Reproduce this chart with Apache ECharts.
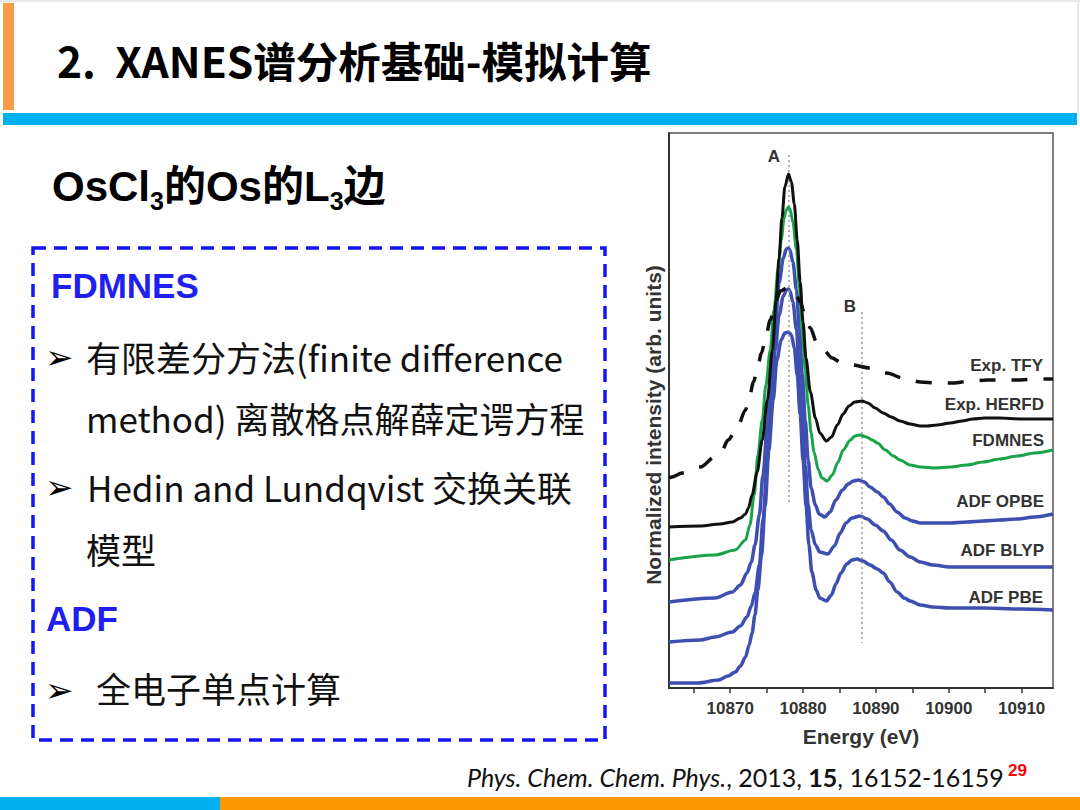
<!DOCTYPE html>
<html>
<head>
<meta charset="utf-8">
<script src="https://cdn.jsdelivr.net/npm/echarts@6/dist/echarts.min.js"></script>
<style>
html,body{margin:0;padding:0;background:#fff;}
#page{position:relative;width:1080px;height:810px;overflow:hidden;background:#fff;}
#chart{position:absolute;left:0;top:0;width:1080px;height:810px;z-index:1;}
.abs{position:absolute;white-space:nowrap;z-index:2;}
.cjk{font-family:"Noto Sans CJK SC","Noto Sans",sans-serif;}
.title{left:57px;top:35px;line-height:50px;font-size:42.5px;font-weight:bold;color:#000;}
.sub{left:52px;top:162px;line-height:50px;font-size:42px;font-weight:bold;color:#000;font-family:"Liberation Sans","Noto Sans CJK SC",sans-serif;}
.sub sub{font-size:25px;vertical-align:-9px;line-height:0;}
.blue{color:#1f1ff0;font-family:"Liberation Sans",Arial,sans-serif;font-weight:bold;font-size:35px;line-height:40px;}
.txt{font-size:35px;line-height:44px;color:#111;}
.arrow{font-family:"DejaVu Sans",sans-serif;font-size:34px;line-height:40px;color:#000;}
.foot{left:467px;top:763px;line-height:28px;font-size:25px;color:#111;font-family:Lato,"Open Sans",sans-serif;}
.pg{left:1008px;top:761px;line-height:20px;font-size:17px;font-weight:bold;color:#ff0000;font-family:"Liberation Sans",Arial,sans-serif;}
</style>
</head>
<body>
<div id="page">
  <div class="abs" style="left:0;top:0;width:1080px;height:2px;background:#e8e8e8;"></div>
  <div class="abs" style="left:1077px;top:0;width:2px;height:113px;background:#e8e8e8;"></div>
  <div class="abs" style="left:3px;top:3px;width:11px;height:107px;background:#f79a4a;"></div>
  <div class="abs" style="left:3px;top:113px;width:1074px;height:12px;background:#00b0f0;"></div>
  <div class="abs" style="left:0;top:797px;width:220px;height:13px;background:#00b0f0;"></div>
  <div class="abs" style="left:220px;top:797px;width:860px;height:13px;background:#ff9900;"></div>

  <div class="abs cjk title">2.&nbsp; XANES谱分析基础-模拟计算</div>
  <div class="abs sub">OsCl<sub>3</sub>的Os的L<sub>3</sub>边</div>

  <svg class="abs" style="left:0;top:0;" width="1080" height="810">
    <rect x="33" y="248" width="572" height="492" fill="none" stroke="#1414f5" stroke-width="3.5" stroke-dasharray="13 8"/>
  </svg>

  <div class="abs blue" style="left:51px;top:266px;">FDMNES</div>
  <div class="abs arrow" style="left:45px;top:337px;">➢</div>
  <div class="abs cjk txt" style="left:86px;top:335px;">有限差分方法(finite difference</div>
  <div class="abs cjk txt" style="left:86px;top:396px;">method) 离散格点解薛定谔方程</div>
  <div class="abs arrow" style="left:45px;top:467px;">➢</div>
  <div class="abs cjk txt" style="left:87px;top:465px;">Hedin and Lundqvist 交换关联</div>
  <div class="abs cjk txt" style="left:86px;top:527px;">模型</div>
  <div class="abs blue" style="left:46px;top:599px;">ADF</div>
  <div class="abs arrow" style="left:45px;top:670px;">➢</div>
  <div class="abs cjk txt" style="left:96px;top:666px;">全电子单点计算</div>

  <div class="abs foot"><i>Phys. Chem. Chem. Phys.</i>, 2013, <b>15</b>, 16152-16159</div>
  <div class="abs pg">29</div>

  <div id="chart"></div>
</div>
<script>
// ---- tick values ----
const energyTicks = [10870, 10880, 10890, 10900, 10910];
const energyMinorTicks = [10865, 10870, 10875, 10880, 10885, 10890, 10895, 10900, 10905, 10910];
const energyMin = 10861.6, energyMax = 10914.3;
const intensityMin = 0, intensityMax = 55.5;

// ---- series names ----
const seriesNames = ['Exp. TFY', 'Exp. HERFD', 'FDMNES', 'ADF OPBE', 'ADF BLYP', 'ADF PBE'];

// ---- Exp. TFY (dashed) ----
const tfyE = [10861.6,10862.0,10863.4,10865.9,10867.9,10868.9,10869.7,10871.0,10872.1,10872.6,10873.2,10873.7,10874.3,10874.8,10875.5,10876.2,10876.9,10877.8,10878.9,10879.6,10880.3,10881.0,10881.9,10882.8,10884.0,10885.1,10886.7,10889.2,10891.5,10893.7,10896.1,10898.4,10900.6,10902.9,10905.3,10907.4,10909.8,10912.1,10914.3];
const tfyI = [21.0,21.1,21.5,22.1,23.1,23.8,24.8,26.1,27.8,29.0,30.6,31.9,33.5,34.8,36.8,38.6,39.7,40.0,39.6,38.6,37.2,36.0,34.5,33.8,33.0,32.6,32.3,32.0,31.5,31.0,30.6,30.5,30.5,30.7,30.8,30.8,30.8,30.9,30.9];

// ---- Exp. HERFD ----
const herfdE = [10861.6,10865.9,10868.6,10870.3,10871.4,10872.1,10872.5,10873.0,10873.7,10874.4,10875.1,10875.8,10876.3,10876.7,10877.1,10877.5,10878.0,10878.4,10878.8,10879.2,10879.6,10880.0,10880.4,10881.0,10881.7,10882.3,10883.2,10883.9,10884.7,10885.5,10886.3,10887.1,10888.1,10888.9,10889.9,10891.0,10892.1,10893.3,10894.7,10896.1,10897.0,10898.4,10900.2,10901.8,10903.3,10904.9,10907.0,10909.8,10912.5,10914.3];
const herfdI = [16.1,16.2,16.4,16.6,17.0,17.4,18.0,19.3,21.6,24.8,28.8,33.8,38.8,43.0,47.0,50.1,51.4,50.6,48.4,44.8,40.6,36.6,33.0,29.6,27.0,25.5,24.7,25.1,26.3,27.4,28.2,28.6,28.7,28.5,28.0,27.5,27.1,26.7,26.4,26.2,26.2,26.3,26.5,26.7,26.9,27.0,27.0,26.9,26.9,26.9];

// ---- FDMNES ----
const fdmnesE = [10861.6,10867.9,10870.7,10872.1,10872.7,10873.3,10873.8,10874.4,10874.9,10875.5,10876.0,10876.6,10877.0,10877.4,10877.7,10878.0,10878.2,10878.6,10879.1,10879.5,10879.9,10880.3,10880.7,10881.1,10881.5,10882.1,10882.6,10883.3,10884.0,10884.8,10885.5,10886.5,10887.1,10887.8,10888.7,10889.5,10890.2,10891.3,10892.4,10893.3,10894.7,10896.1,10898.1,10900.2,10902.5,10904.7,10907.0,10909.4,10911.8,10914.3];
const fdmnesI = [12.8,13.3,13.8,14.8,16.3,19.3,23.3,26.8,30.3,33.8,37.8,42.0,44.8,47.0,47.8,48.1,47.9,46.6,43.8,40.0,35.8,31.8,28.3,25.5,23.6,21.8,21.0,20.7,21.3,22.6,23.8,24.8,25.2,25.3,25.1,24.8,24.5,23.8,23.2,22.8,22.3,22.1,22.0,22.1,22.3,22.6,22.9,23.2,23.5,23.8];

// ---- ADF OPBE ----
const opbeE = [10861.6,10867.9,10870.3,10871.4,10872.3,10872.9,10873.4,10874.0,10874.5,10875.1,10875.6,10876.2,10876.7,10877.3,10877.7,10878.0,10878.2,10878.6,10879.1,10879.5,10879.9,10880.3,10880.7,10881.1,10881.7,10882.2,10883.0,10883.7,10884.5,10885.4,10886.2,10886.9,10887.6,10888.4,10889.2,10890.2,10891.0,10891.9,10892.9,10894.0,10895.0,10896.1,10897.8,10900.2,10902.5,10904.7,10907.0,10909.4,10911.8,10914.3];
const opbeI = [8.6,9.0,9.6,10.3,11.5,12.6,14.3,17.3,21.3,26.3,31.3,36.3,40.5,43.0,43.9,44.0,43.8,42.6,39.8,35.8,31.3,26.8,22.8,20.0,18.3,17.4,17.1,17.6,18.8,19.8,20.4,20.7,20.8,20.6,20.1,19.6,19.1,18.4,17.6,17.0,16.7,16.5,16.5,16.5,16.6,16.7,16.8,16.9,17.1,17.4];

// ---- ADF BLYP ----
const blypE = [10861.6,10865.9,10867.9,10870.3,10871.4,10872.3,10872.9,10873.4,10874.0,10874.5,10875.1,10875.6,10876.2,10876.7,10877.3,10877.7,10878.0,10878.2,10878.6,10879.1,10879.5,10879.9,10880.3,10880.7,10881.1,10881.7,10882.3,10883.4,10884.3,10885.1,10885.9,10886.7,10887.8,10888.8,10889.9,10891.0,10892.1,10893.3,10894.7,10896.1,10897.8,10900.2,10902.5,10907.0,10911.2,10914.3];
const blypI = [4.6,4.8,5.1,5.6,6.2,7.1,8.2,9.5,12.3,16.8,22.8,28.8,33.8,37.3,39.2,39.8,39.9,39.7,38.6,35.8,31.3,26.8,22.3,18.3,15.8,14.3,13.6,13.4,14.2,15.5,16.5,17.0,17.2,16.9,16.3,15.7,14.8,13.8,13.1,12.6,12.3,12.1,12.1,12.1,12.1,12.1];

// ---- ADF PBE ----
const pbeE = [10861.6,10865.6,10868.4,10869.7,10870.7,10871.4,10872.1,10872.6,10873.0,10873.4,10873.8,10874.3,10874.8,10875.3,10875.9,10876.4,10877.0,10877.5,10878.0,10878.4,10878.8,10879.2,10879.6,10880.0,10880.4,10880.8,10881.2,10881.8,10882.3,10883.2,10883.9,10884.5,10885.2,10886.0,10886.7,10887.4,10888.2,10889.2,10890.2,10891.0,10891.9,10892.9,10893.9,10894.7,10896.1,10897.8,10900.2,10904.7,10909.8,10914.3];
const pbeI = [0.5,0.5,0.8,1.2,1.6,2.2,3.1,4.3,5.5,7.3,9.8,13.3,18.3,23.8,28.8,32.8,34.8,35.5,35.6,35.3,34.0,31.3,27.3,22.8,18.3,14.3,11.6,9.8,9.0,8.7,9.3,10.4,11.5,12.4,12.8,12.9,12.7,12.3,11.9,11.5,10.6,9.6,9.0,8.7,8.3,8.1,8.0,8.0,7.9,7.8];

// ---- reference lines A and B ----
const peakA = 10878.0, peakATop = 53.3, peakABottom = 18.3;
const peakB = 10888.1, peakBTop = 37.6, peakBBottom = 4.5;

function pairs(E, I) { return E.map((e, i) => [e, I[i]]); }

const BLACK = '#111111', GREEN = '#19a34b', BLUE = '#3d4fb0';
const axisFont = 'Arial, "Liberation Sans", sans-serif';

function lineSeries(name, E, I, color, width, type, z) {
  return {
    type: 'line', name: name, data: pairs(E, I),
    showSymbol: false, symbol: 'none', smooth: 0.3, smoothMonotone: 'x',
    lineStyle: { color: color, width: width, type: type || 'solid' },
    z: z, silent: true
  };
}

const pbeSeries = lineSeries(seriesNames[5], pbeE, pbeI, BLUE, 3.5, 'solid', 2);
pbeSeries.markLine = {
  silent: true, symbol: ['none', 'none'], label: { show: false },
  lineStyle: { color: '#9a9a9a', width: 1.5, type: [2, 3] },
  data: [
    [{ coord: [peakA, peakATop] }, { coord: [peakA, peakABottom] }],
    [{ coord: [peakB, peakBTop] }, { coord: [peakB, peakBBottom] }]
  ]
};

const chart = echarts.init(document.getElementById('chart'), null, { renderer: 'svg', width: 1080, height: 810 });
const labelStyle = (text, x, y) => ({
  type: 'text', x: x, y: y, silent: true,
  style: { text: text, fill: '#333', font: 'bold 17px ' + axisFont, textAlign: 'right', textVerticalAlign: 'middle', align: 'right', verticalAlign: 'middle' }
});

chart.setOption({
  animation: false,
  backgroundColor: 'transparent',
  grid: { left: 669, top: 133, width: 384, height: 555, show: true, borderColor: '#555', borderWidth: 1.5, containLabel: false },
  xAxis: {
    type: 'value', min: energyMin, max: energyMax,
    axisLine: { show: true, onZero: false, lineStyle: { color: '#333', width: 2 } },
    axisTick: { show: true, customValues: energyMinorTicks, length: 5, inside: false, lineStyle: { color: '#333', width: 1.5 } },
    axisLabel: { show: true, customValues: energyTicks, formatter: v => String(Math.round(v)), margin: 12, color: '#333', fontWeight: 'bold', fontSize: 17, fontFamily: axisFont },
    splitLine: { show: false },
    name: 'Energy (eV)', nameLocation: 'middle', nameGap: 38,
    nameTextStyle: { color: '#333', fontWeight: 'bold', fontSize: 21, fontFamily: axisFont }
  },
  yAxis: {
    type: 'value', min: intensityMin, max: intensityMax,
    axisLine: { show: true, onZero: false, lineStyle: { color: '#333', width: 2 } },
    axisTick: { show: false }, axisLabel: { show: false }, splitLine: { show: false }
  },
  series: [
    pbeSeries,
    lineSeries(seriesNames[4], blypE, blypI, BLUE, 3.5, 'solid', 3),
    lineSeries(seriesNames[3], opbeE, opbeI, BLUE, 3.5, 'solid', 4),
    lineSeries(seriesNames[2], fdmnesE, fdmnesI, GREEN, 3, 'solid', 5),
    lineSeries(seriesNames[1], herfdE, herfdI, BLACK, 3, 'solid', 6),
    lineSeries(seriesNames[0], tfyE, tfyI, BLACK, 3.5, [16, 16], 7)
  ],
  graphic: [
    labelStyle(seriesNames[0], 1043, 365),
    labelStyle(seriesNames[1], 1044, 404),
    labelStyle(seriesNames[2], 1044, 440),
    labelStyle(seriesNames[3], 1044, 501),
    labelStyle(seriesNames[4], 1044, 550),
    labelStyle(seriesNames[5], 1043, 597),
    { type: 'text', x: 774, y: 156, silent: true,
      style: { text: 'A', fill: '#333', font: 'bold 17px ' + axisFont, textAlign: 'center', textVerticalAlign: 'middle', align: 'center', verticalAlign: 'middle' } },
    { type: 'text', x: 850, y: 306, silent: true,
      style: { text: 'B', fill: '#333', font: 'bold 17px ' + axisFont, textAlign: 'center', textVerticalAlign: 'middle', align: 'center', verticalAlign: 'middle' } },
    { type: 'text', x: 653, y: 425, rotation: Math.PI / 2, silent: true,
      style: { text: 'Normalized intensity (arb. units)', fill: '#333', font: 'bold 21px ' + axisFont, textAlign: 'center', textVerticalAlign: 'middle', align: 'center', verticalAlign: 'middle' } }
  ]
});
</script>
</body>
</html>
